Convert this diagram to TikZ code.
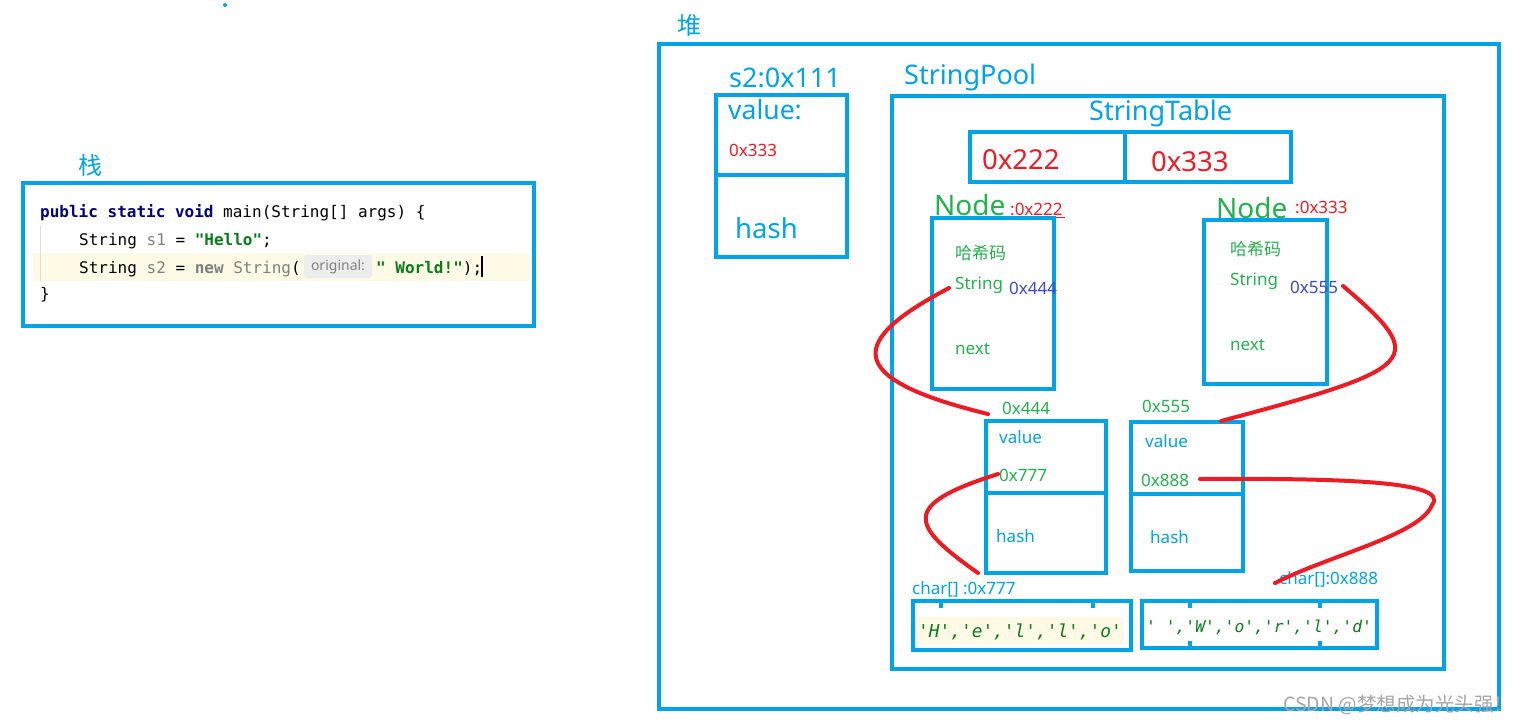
\documentclass[tikz,border=0pt]{standalone}
\usepackage{fontspec}
\setmainfont{Noto Sans}
\setmonofont{DejaVu Sans Mono}
\newfontfamily\cjk{Noto Sans CJK SC}
\definecolor{mblue}{RGB}{0,162,232}
\definecolor{mred}{RGB}{237,28,36}
\definecolor{mgreen}{RGB}{34,177,76}
\definecolor{mpurple}{RGB}{63,72,204}
\definecolor{kwnavy}{RGB}{0,0,128}
\definecolor{strgreen}{RGB}{6,125,23}
\definecolor{codegray}{RGB}{128,128,128}
\definecolor{hlyellow}{RGB}{254,250,230}
\definecolor{hintbg}{RGB}{237,237,237}
\definecolor{guide}{RGB}{220,220,220}
\definecolor{wmgray}{RGB}{165,165,165}
\begin{document}
\begin{tikzpicture}[x=1pt,y=-1pt,
  box/.style={draw=mblue,line width=4pt,inner sep=0,rectangle},
  lbl/.style={inner sep=0,anchor=west},
  fs/.style={font=\fontsize{#1}{#1}\selectfont},
  code/.style={inner sep=0,anchor=base west,font=\fontsize{16}{16}\selectfont\ttfamily},
  redline/.style={draw=mred,line width=4pt,line cap=round,line join=round},
  tick/.style={fill=mblue,inner sep=0,minimum width=4pt,minimum height=6pt}
]
\useasboundingbox (0,0) rectangle (1522,723);
\fill[mblue] (225,5) circle (2);

% ---------- stack ----------
\node[lbl,text=mblue,font=\cjk\fontsize{24}{24}\selectfont] (stacklbl) at (78,165) {栈};
\fill[hlyellow] (33,253) rectangle (530,281);
\draw[guide,line width=1pt] (40,226) -- (40,281);
\node[box,minimum width=511,minimum height=143] (stack) at (278.5,254.5) {};
\node[code] (c1) at (40,217) {\textcolor{kwnavy}{\bfseries public static void} main(String[] args) \{};
\node[code] (c2) at (79,245) {String \textcolor{codegray}{s1} = \textcolor{strgreen}{\bfseries "Hello"};};
\node[code] (c3a) at (79,273) {String \textcolor{codegray}{s2} = \textcolor{codegray}{\bfseries new} \textcolor{codegray}{String}(};
\node[fill=hintbg,rounded corners=3pt,inner sep=0,minimum width=68,minimum height=23,text=codegray,font=\fontsize{14}{14}\selectfont] (hint) at (338,266.5) {original:};
\node[code] (c3b) at (376,273) {\textcolor{strgreen}{\bfseries " World!"});};
\draw[black,line width=1.5pt] (482,256) -- (482,277);
\node[code] (c4) at (40,299) {\}};

% ---------- heap ----------
\node[lbl,text=mblue,font=\cjk\fontsize{24}{24}\selectfont] (heaplbl) at (677,25) {堆};
\node[box,minimum width=840,minimum height=665] (heap) at (1079,376.5) {};

% s2 object
\node[lbl,text=mblue,fs=27] (s2lbl) at (729,78) {s2:0x111};
\node[box,minimum width=131,minimum height=162] (s2box) at (781.5,176) {};
\draw[mblue,line width=4pt] (s2box.west |- 0,175) -- (849,175);
\node[lbl,text=mblue,fs=26.5] (s2val) at (728,110) {value:};
\node[lbl,text=mred,fs=17] (s2addr) at (729,150) {0x333};
\node[lbl,text=mblue,fs=27.5] (s2hash) at (735,228) {hash};

% string pool
\node[lbl,text=mblue,fs=27] (poollbl) at (904,77) {StringPool};
\node[box,minimum width=552,minimum height=573] (pool) at (1168,382.5) {};
\node[lbl,text=mblue,fs=27] (tablelbl) at (1089,113) {StringTable};
\node[box,minimum width=321,minimum height=50] (table) at (1130.5,157) {};
\draw[mblue,line width=4pt] (1125,132) -- (1125,182);
\node[lbl,text=mred,fs=27.5] (t1) at (982,160) {0x222};
\node[lbl,text=mred,fs=27.5] (t2) at (1151,162) {0x333};

% Node 1
\node[lbl,text=mgreen,fs=28] (n1lbl) at (934,205) {Node};
\node[lbl,text=mred,fs=17] (n1addr) at (1010,209) {:0x222};
\draw[mred,line width=1pt] (1012,217) -- (1065,217);
\node[box,minimum width=122,minimum height=171] (node1) at (993,303.5) {};
\node[lbl,text=mgreen,font=\cjk\fontsize{17}{17}\selectfont] (n1h) at (955,253) {哈希码};
\node[lbl,text=mgreen,fs=17] (n1s) at (955,285) {String};
\node[lbl,text=mpurple,fs=17] (n1p) at (1009,288) {0x444};
\node[lbl,text=mgreen,fs=17] (n1n) at (955,349) {next};

% Node 2
\node[lbl,text=mgreen,fs=28] (n2lbl) at (1216,208) {Node};
\node[lbl,text=mred,fs=17] (n2addr) at (1295,207) {:0x333};
\node[box,minimum width=123,minimum height=164] (node2) at (1265.5,302) {};
\node[lbl,text=mgreen,font=\cjk\fontsize{17}{17}\selectfont] (n2h) at (1230,249) {哈希码};
\node[lbl,text=mgreen,fs=17] (n2s) at (1230,281) {String};
\node[lbl,text=mpurple,fs=17] (n2p) at (1290,287) {0x555};
\node[lbl,text=mgreen,fs=17] (n2n) at (1230,345) {next};

% String object 1
\node[lbl,text=mgreen,fs=17] (s1lbl) at (1002,408) {0x444};
\node[box,minimum width=120,minimum height=152] (str1) at (1046,497) {};
\draw[mblue,line width=4pt] (986,493) -- (1106,493);
\node[lbl,text=mblue,fs=17] (s1v) at (999,437) {value};
\node[lbl,text=mgreen,fs=17] (s1a) at (999,475) {0x777};
\node[lbl,text=mblue,fs=17] (s1h) at (996,536) {hash};

% String object 2
\node[lbl,text=mgreen,fs=17] (s3lbl) at (1142,406) {0x555};
\node[box,minimum width=112,minimum height=149] (str2) at (1187,496.5) {};
\draw[mblue,line width=4pt] (1131,494) -- (1243,494);
\node[lbl,text=mblue,fs=17] (s3v) at (1145,441) {value};
\node[lbl,text=mgreen,fs=17] (s3a) at (1141,480) {0x888};
\node[lbl,text=mblue,fs=17] (s3h) at (1150,537) {hash};

% char arrays
\node[lbl,text=mblue,fs=17] (a1lbl) at (912,589) {char[] :0x777};
\fill[hlyellow] (918,617) rectangle (1123,644);
\node[box,minimum width=218,minimum height=49] (arr1) at (1022,625.5) {};
\node[tick] (a1t1) at (941,605) {};
\node[tick] (a1t2) at (1093,605) {};
\node[lbl,text=strgreen,font=\fontsize{17.8}{17.8}\selectfont\ttfamily\itshape] (a1txt) at (918,632) {'H','e','l','l','o'};

\node[lbl,text=mblue,fs=17] (a2lbl) at (1279,579) {char[]:0x888};
\node[box,minimum width=235,minimum height=47] (arr2) at (1259.5,624.5) {};
\node[tick] (a2t1) at (1190,605) {};
\node[tick] (a2t2) at (1320,605) {};
\node[tick] (a2t3) at (1190,644) {};
\node[tick] (a2t4) at (1320,644) {};
\node[lbl,text=strgreen,font=\fontsize{16.3}{16.3}\selectfont\ttfamily\itshape] (a2txt) at (1146,627) {'\ ','W','o','r','l','d'};

% ---------- red connectors ----------
\coordinate (p1s) at (949,288);
\coordinate (p1e) at (988,414);
\coordinate (p2s) at (1343,286);
\coordinate (p2e) at (1221,421);
\coordinate (p3s) at (998,474);
\coordinate (p3e) at (978,573);
\coordinate (p4s) at (1200,479);
\coordinate (p4m) at (1432,505);
\coordinate (p4e) at (1275,583);
\draw[redline] (p1s) .. controls (850,340) and (840,378) .. (p1e);
\draw[redline] (p2s) .. controls (1430,360) and (1420,368) .. (p2e);
\draw[redline] (p3s) .. controls (900,505) and (910,525) .. (p3e);
\draw[redline] (p4s) .. controls (1350,478) and (1450,482) .. (p4m) .. controls (1420,535) and (1330,555) .. (p4e);

% watermark
\node[lbl,text=wmgray,font=\cjk\fontsize{19.5}{19.5}\selectfont] (wm) at (1283,705) {CSDN @梦想成为光头强！};
\end{tikzpicture}
\end{document}
